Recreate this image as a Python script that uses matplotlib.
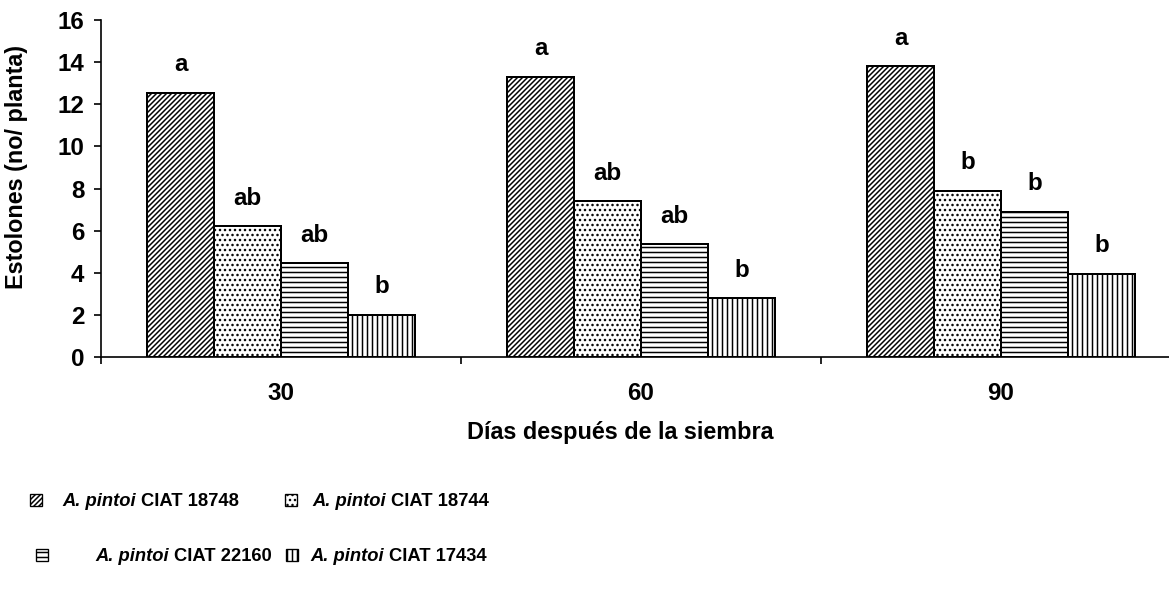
import numpy as np
import matplotlib
matplotlib.use("Agg")
import matplotlib.pyplot as plt
from matplotlib.patches import Rectangle

# DATOS: ESTOLONES POR PLANTA SEGUN DIAS DESPUES DE LA SIEMBRA
dias = ["30", "60", "90"]
especie = "A. pintoi"
accesiones = ["CIAT 18748", "CIAT 18744", "CIAT 22160", "CIAT 17434"]

ciat_18748 = [12.55, 13.3, 13.8]
ciat_18744 = [6.2, 7.4, 7.9]
ciat_22160 = [4.45, 5.35, 6.9]
ciat_17434 = [2.0, 2.8, 3.95]

# letras de comparacion de medias (Tukey)
letras_18748 = ["a", "a", "a"]
letras_18744 = ["ab", "ab", "b"]
letras_22160 = ["ab", "ab", "b"]
letras_17434 = ["b", "b", "b"]

series = [ciat_18748, ciat_18744, ciat_22160, ciat_17434]
letras = [letras_18748, letras_18744, letras_22160, letras_17434]
tramas = ["////////", "....", "----", "||||"]

plt.rcParams["font.family"] = ["Liberation Sans", "DejaVu Sans"]
plt.rcParams["font.weight"] = "bold"
plt.rcParams["hatch.linewidth"] = 0.9

# 1. FIGURA Y EJES
fig = plt.figure(figsize=(1169 / 120, 593 / 120), dpi=120)
ax = fig.add_axes([101 / 1169, 236 / 593, 1080 / 1169, 337 / 593])

x = np.arange(len(dias))
ancho = 0.186

# 2. BARRAS + LETRAS
for i, (vals, let, trama) in enumerate(zip(series, letras, tramas)):
    pos = x + (i - 1.5) * ancho
    ax.bar(pos, vals, width=ancho, color="white", edgecolor="black",
           linewidth=1.2, hatch=trama)
    for px, v, l in zip(pos, vals, let):
        ax.text(px, v + 1.33, l, ha="center", va="center",
                fontsize=14.5, fontweight="bold")

# 3. EJES
ax.set_xlim(-0.5, 2.5)
ax.set_ylim(0, 16)
ax.set_yticks(range(0, 17, 2))
ax.set_xticks(x)
ax.set_xticklabels(dias)
ax.set_xticks([-0.5, 0.5, 1.5], minor=True)
ax.spines["top"].set_visible(False)
ax.spines["right"].set_visible(False)
for s in ["left", "bottom"]:
    ax.spines[s].set_linewidth(1.0)
ax.tick_params(axis="y", direction="out", length=4, width=1.0,
               labelsize=14.5, pad=6)
ax.tick_params(axis="x", which="major", length=0, labelsize=14.5, pad=15)
ax.tick_params(axis="x", which="minor", direction="out", length=4, width=1.0)
for t in ax.get_xticklabels() + ax.get_yticklabels():
    t.set_fontweight("bold")

ax.set_ylabel("Estolones (no/ planta)", fontsize=14, fontweight="bold",
              va="center")
ax.yaxis.set_label_coords((17 - 101) / 1080, 0.565)
ax.set_xlabel("Días después de la siembra", fontsize=14,
              fontweight="bold", va="center")
ax.xaxis.set_label_coords((620 - 101) / 1080, (357 - 433) / 337)

# 4. LEYENDA (dos filas, dos columnas)
W, H = 1169, 593
filas = [500, 555]
cols_patch = [[30, 285], [36, 286]]
cols_text = [[62, 312], [95, 310]]
renderer = fig.canvas.get_renderer()
for k, (acc, trama) in enumerate(zip(accesiones, tramas)):
    f, c = divmod(k, 2)
    yc = filas[f]
    px = cols_patch[f][c]
    fig.patches.append(Rectangle((px / W, (H - yc - 6) / H), 12 / W, 12 / H,
                                 transform=fig.transFigure, facecolor="white",
                                 edgecolor="black", linewidth=0.8,
                                 hatch=trama))
    yb = (H - yc - 6) / H
    t1 = fig.text(cols_text[f][c] / W, yb, especie, fontsize=11,
                  fontweight="bold", style="italic", va="baseline", ha="left")
    bb = t1.get_window_extent(renderer=renderer)
    fig.text((bb.x1 + 5) / W, yb, acc, fontsize=11, fontweight="bold",
             va="baseline", ha="left")

fig.savefig("out.png", dpi=120)
